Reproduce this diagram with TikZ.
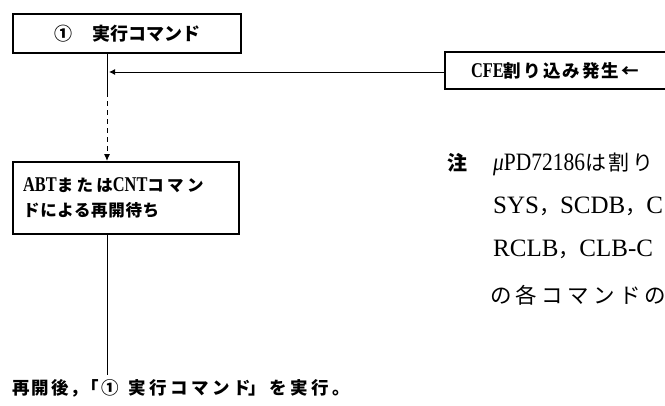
\documentclass[tikz,border=0pt]{standalone}
\usepackage{fontspec}
\setmainfont{Liberation Serif}
\newfontfamily\jp{Noto Sans CJK JP}
\newfontfamily\jpn{Noto Sans CJK JP}[LetterSpace=4]
\newfontfamily\jpw{Noto Sans CJK JP}[LetterSpace=12]
\newfontfamily\jpx{Noto Sans CJK JP}[LetterSpace=20]
\newfontfamily\latb{Liberation Serif}[FakeStretch=0.78]
\newfontfamily\latn{Liberation Serif}[FakeStretch=0.86]
\usetikzlibrary{arrows.meta, positioning, calc}

\tikzset{
  cmdbox/.style={draw, line width=2.2pt, inner sep=0pt, anchor=north west},
  link/.style={line width=1pt},
  notetxt/.style={anchor=base west, inner sep=0pt, font=\fontsize{25}{28}\selectfont},
}
\newcommand{\jb}[1]{{\jpw\bfseries #1}}
\newcommand{\lb}[1]{{\latb\bfseries\fontsize{21}{25}\selectfont #1}}
\newcommand{\nj}[1]{{\jpw\fontsize{21}{24}\selectfont #1}}

\begin{document}
\begin{tikzpicture}[x=1pt, y=-1pt]
  \path[use as bounding box, clip] (0,0) rectangle (665,405);
  % boxes
  \node[cmdbox, minimum width=228, minimum height=39, font=\fontsize{18}{20}\selectfont] (exec) at (12,13) {{\jp\bfseries ①\hspace{20pt}実行コマンド}};
  \node[cmdbox, minimum width=256, minimum height=37, text width=204, inner xsep=26pt, align=left, font=\fontsize{17.5}{20}\selectfont] (cfe) at (444,51) {\lb{CFE}\jb{割り込み発生←}};
  \node[cmdbox, minimum width=226, minimum height=72, text width=206, inner xsep=10pt, align=left, font=\fontsize{16.5}{25}\selectfont] (wait) at (12,161) {\lb{ABT}{\jpx\bfseries または}\lb{CNT}{\jpx\bfseries コマン}\\{\jpn\bfseries ドによる再開待ち}};
  \node[anchor=north west, inner sep=0pt, font=\fontsize{17.5}{20}\selectfont] (resume) at (12,379) {\jb{再開後，}\hspace{-7pt}\jb{「①}\hspace{10pt}{\jpx\bfseries 実行コマンド}\hspace{-3pt}{\jpx\bfseries 」を実行。}};
  % note
  \node[anchor=base west, inner sep=0pt, font=\fontsize{20}{24}\selectfont] (chu) at (447,170) {{\jp\bfseries 注}};
  \node[notetxt] (n1) at (493,170) {{\latn\textit{μ}PD72186}\nj{は割り}};
  \node[notetxt] (n2) at (493,213) {SYS\nj{，}SCDB\nj{，}C};
  \node[notetxt] (n3) at (493,256) {RCLB\nj{，}CLB-C};
  \node[notetxt] (n4) at (490,303) {{\jpx\fontsize{21.5}{24}\selectfont の各コマンドの}};
  % connectors
  \coordinate (jn) at (107,72);
  \coordinate (dsh) at (107,92);
  \draw[link] (exec.south -| jn) -- (dsh);
  \draw[link, dash pattern=on 5pt off 4pt, -{Latex[length=7pt,width=6pt]}] (dsh) -- (wait.north -| jn);
  \draw[link, -{Latex[length=6pt,width=6pt]}, shorten >=2pt] (cfe.west |- jn) -- (jn);
  \draw[link] (wait.south -| jn) -- ($(resume.north -| jn)+(0,-4)$);
\end{tikzpicture}
\end{document}
